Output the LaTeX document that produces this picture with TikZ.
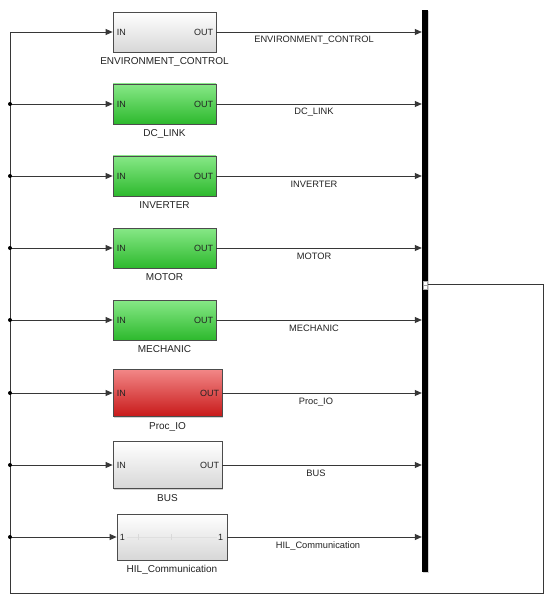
\documentclass[tikz,border=0pt]{standalone}
\usepackage{fontspec}
\setmainfont{Liberation Sans}
\usetikzlibrary{shadows,arrows.meta}
\definecolor{wireC}{RGB}{55,55,55}
\definecolor{txtC}{RGB}{35,35,35}
\definecolor{greenTop}{RGB}{135,232,135}
\definecolor{greenBot}{RGB}{45,185,45}
\definecolor{redTop}{RGB}{242,135,135}
\definecolor{redBot}{RGB}{200,25,25}
\definecolor{whiteBot}{RGB}{215,215,215}
\begin{document}
\begin{tikzpicture}[x=1pt,y=-1pt,
  wire/.style={draw=wireC, line width=0.8pt},
  arr/.style={wire, -{Triangle[length=7pt,width=6pt]}},
  block/.style={draw=black!70, line width=0.8pt, inner sep=0pt,
    minimum width=103pt, minimum height=40pt,
    drop shadow={shadow xshift=1.3pt, shadow yshift=-1.3pt, opacity=0.35}},
  bigblock/.style={block, minimum width=109pt, minimum height=47pt},
  wblock/.style={top color=white, bottom color=whiteBot},
  gblock/.style={top color=greenTop, bottom color=greenBot},
  rblock/.style={top color=redTop, bottom color=redBot},
  port/.style={inner sep=0pt, font=\fontsize{9}{10}\selectfont, text=txtC},
  blabel/.style={inner sep=0pt, anchor=base, font=\fontsize{10}{11}\selectfont, text=txtC},
  slabel/.style={inner sep=0pt, anchor=base, font=\fontsize{9.3}{11}\selectfont, text=txtC},
  junction/.style={fill=black, draw=none}
]
\useasboundingbox (0,0) rectangle (550,604);
\fill[white] (0,0) rectangle (550,604);

% bus bar
\node[fill=black, draw=none, inner sep=0pt, minimum width=6pt, minimum height=562pt,
  drop shadow={shadow xshift=1.3pt, shadow yshift=-1.3pt, opacity=0.35}] (bar) at (425,291) {};

% blocks
\node[block, wblock] (env) at (164.5,32) {};
\node[block, gblock] (dc) at (164.5,104) {};
\node[block, gblock] (inv) at (164.5,176) {};
\node[block, gblock] (mot) at (164.5,248) {};
\node[block, gblock] (mech) at (164.5,320) {};
\node[bigblock, rblock] (proc) at (167.5,393) {};
\node[bigblock, wblock] (bus) at (167.5,465) {};
\node[bigblock, wblock, minimum width=110pt, minimum height=46pt] (hil) at (172,537) {};

% faint contents of HIL block
\draw[gray!25, line width=0.6pt] ([xshift=10pt]hil.west) -- ([xshift=-10pt]hil.east);
\draw[gray!30, line width=0.6pt] ([xshift=22pt,yshift=3pt]hil.west) -- ([xshift=22pt,yshift=-3pt]hil.west);
\draw[gray!30, line width=0.6pt] ([xshift=55pt,yshift=3pt]hil.west) -- ([xshift=55pt,yshift=-3pt]hil.west);

% port labels
\foreach \b in {env,dc,inv,mot,mech,proc,bus}{
  \node[port, anchor=west] at ([xshift=4pt]\b.west) {IN};
  \node[port, anchor=east] at ([xshift=-3pt]\b.east) {OUT};
}
\node[port, anchor=west] at ([xshift=3pt]hil.west) {1};
\node[port, anchor=east] at ([xshift=-4pt]hil.east) {1};

% block names
\node[blabel] (envn) at ([yshift=-12.5pt]env.south) {ENVIRONMENT\_CONTROL};
\node[blabel] (dcn) at ([yshift=-12.5pt]dc.south) {DC\_LINK};
\node[blabel] (invn) at ([yshift=-12.5pt]inv.south) {INVERTER};
\node[blabel] (motn) at ([yshift=-12.5pt]mot.south) {MOTOR};
\node[blabel] (mechn) at ([yshift=-12.5pt]mech.south) {MECHANIC};
\node[blabel] (procn) at ([yshift=-12.5pt]proc.south) {Proc\_IO};
\node[blabel] (busn) at ([yshift=-12.5pt]bus.south) {BUS};
\node[blabel] (hiln) at ([yshift=-12.5pt]hil.south) {HIL\_Communication};

% outputs to bus bar
\draw[arr] (env.east) -- (env.east -| bar.west);
\draw[arr] (dc.east) -- (dc.east -| bar.west);
\draw[arr] (inv.east) -- (inv.east -| bar.west);
\draw[arr] (mot.east) -- (mot.east -| bar.west);
\draw[arr] (mech.east) -- (mech.east -| bar.west);
\draw[arr] (proc.east) -- (proc.east -| bar.west);
\draw[arr] (bus.east) -- (bus.east -| bar.west);
\draw[arr] (hil.east) -- (hil.east -| bar.west);

% signal labels
\node[slabel] (envs) at (314,43) {ENVIRONMENT\_CONTROL};
\node[slabel] (dcs) at (314,115) {DC\_LINK};
\node[slabel] (invs) at (314,187) {INVERTER};
\node[slabel] (mots) at (314,259) {MOTOR};
\node[slabel] (mechs) at (314,331) {MECHANIC};
\node[slabel] (procs) at (316,404) {Proc\_IO};
\node[slabel] (buss) at (316,476) {BUS};
\node[slabel] (hils) at (318,548) {HIL\_Communication};

% feedback loop
\coordinate (busout) at (428,284);
\coordinate (c1) at (543,284);
\coordinate (c2) at (543,593);
\coordinate (c3) at (10,593);
\coordinate (c4) at (10,32);
\draw[arr] (busout) -- (c1) -- (c2) -- (c3) -- (c4) -- (env.west);

\foreach \b/\y in {dc/104,inv/176,mot/248,mech/320,proc/393,bus/465,hil/537}{
  \coordinate (j\b) at (10,\y);
  \draw[arr] (j\b) -- (\b.west);
  \fill[junction] (j\b) circle (2pt);
}

% bus output port marker
\node[draw=gray!70, fill=white, line width=0.5pt, inner sep=0pt,
  minimum width=3.5pt, minimum height=8pt] (tap) at (425,285) {};
\draw[gray!70, line width=0.5pt] (tap.west) -- (tap.east);
\end{tikzpicture}
\end{document}
